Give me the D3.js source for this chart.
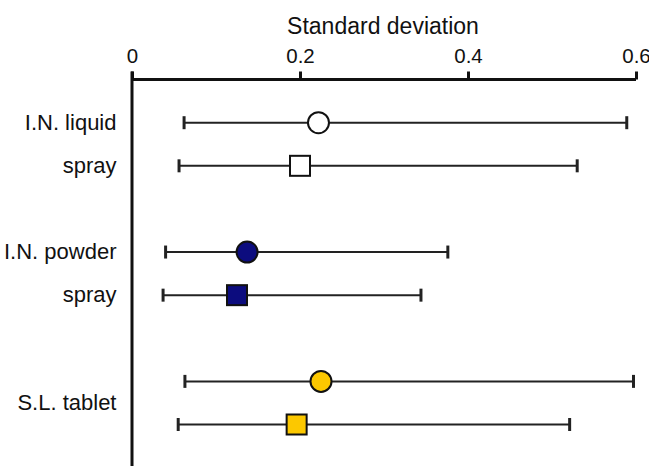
<!DOCTYPE html>
<html>
<head>
  <meta charset="utf-8">
  <title>Standard deviation</title>
  <script src="https://cdn.jsdelivr.net/npm/d3@7"></script>
  <style>
    body { margin:0; background:#fff; }
    text { font-family: "Liberation Sans", Arial, sans-serif; fill:#111; }
  </style>
</head>
<body>
<div id="chart"></div>
<script>
// rows, top to bottom (slot = vertical position, gaps between groups)
var slots  = [0, 1, 3, 4, 6, 7];
var shapes = ["circle", "square", "circle", "square", "circle", "square"];
var fills  = ["#ffffff", "#ffffff", "#0c0c7e", "#0c0c7e", "#fcc800", "#fcc800"];
var means  = [0.222, 0.200, 0.137, 0.125, 0.225, 0.196];
var lows   = [0.062, 0.056, 0.040, 0.037, 0.063, 0.055];
var highs  = [0.589, 0.530, 0.376, 0.344, 0.597, 0.521];

var groupLabels = [
  {text:"I.N. liquid", slot:0},
  {text:"spray",       slot:1},
  {text:"I.N. powder", slot:3},
  {text:"spray",       slot:4},
  {text:"S.L. tablet", slot:6.5}
];
var tickValues = [0, 0.2, 0.4, 0.6];
var axisTitle = "Standard deviation";

var W = 649, H = 466;
var svg = d3.select("#chart").append("svg").attr("width", W).attr("height", H);

var x = d3.scaleLinear().domain([0, 0.6]).range([132, 636]);
var y = d3.scaleLinear().domain([0, 7]).range([122.7, 424.5]);
var axisY = 79.5;

// top axis
var axis = d3.axisTop(x).tickValues(tickValues).tickSize(8).tickPadding(9)
  .tickFormat(function(d){ return d === 0 ? "0" : d3.format(".1f")(d); });
var gAx = svg.append("g").attr("transform", "translate(0," + axisY + ")").call(axis);
gAx.select(".domain").attr("d", "M" + x(0) + ",0H" + x(0.6)).attr("stroke", "#111").attr("stroke-width", 3);
gAx.selectAll(".tick line").attr("stroke", "#111").attr("stroke-width", 3);
gAx.selectAll(".tick text").attr("font-size", 20.5).attr("font-family", "Liberation Sans, Arial, sans-serif").attr("fill", "#111");

// left vertical line
svg.append("line").attr("x1", x(0)).attr("x2", x(0)).attr("y1", axisY - 8).attr("y2", H)
  .attr("stroke", "#111").attr("stroke-width", 3);

svg.append("text").attr("x", 383).attr("y", 34).attr("text-anchor", "middle")
  .attr("font-size", 23).text(axisTitle);

// row labels
svg.selectAll("text.lab").data(groupLabels).enter().append("text")
  .attr("class", "lab")
  .attr("x", 116.5).attr("y", function(d){ return y(d.slot); }).attr("dy", "0.32em")
  .attr("text-anchor", "end").attr("font-size", 22)
  .text(function(d){ return d.text; });

var rows = slots.map(function(s, i){
  return {slot:s, shape:shapes[i], fill:fills[i], mean:means[i], lo:lows[i], hi:highs[i]};
});

var g = svg.selectAll("g.row").data(rows).enter().append("g").attr("class", "row")
  .attr("transform", function(d){ return "translate(0," + y(d.slot) + ")"; });

g.append("line").attr("x1", function(d){ return x(d.lo); }).attr("x2", function(d){ return x(d.hi); })
  .attr("stroke", "#222").attr("stroke-width", 2);
g.append("line").attr("x1", function(d){ return x(d.lo); }).attr("x2", function(d){ return x(d.lo); })
  .attr("y1", -6.5).attr("y2", 6.5).attr("stroke", "#222").attr("stroke-width", 3);
g.append("line").attr("x1", function(d){ return x(d.hi); }).attr("x2", function(d){ return x(d.hi); })
  .attr("y1", -6.5).attr("y2", 6.5).attr("stroke", "#222").attr("stroke-width", 3);

g.filter(function(d){ return d.shape === "circle"; }).append("circle")
  .attr("cx", function(d){ return x(d.mean); }).attr("r", 10.5)
  .attr("fill", function(d){ return d.fill; }).attr("stroke", "#111").attr("stroke-width", 2);

g.filter(function(d){ return d.shape === "square"; }).append("rect")
  .attr("x", function(d){ return x(d.mean) - 10; }).attr("y", -10)
  .attr("width", 20).attr("height", 20)
  .attr("fill", function(d){ return d.fill; }).attr("stroke", "#111").attr("stroke-width", 2);
</script>
</body>
</html>
